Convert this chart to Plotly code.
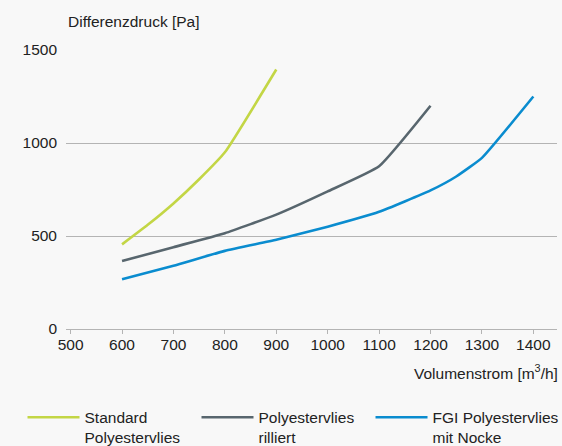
import plotly.graph_objects as go

# Data
std_x = [600, 650, 700, 750, 800, 900]
std_y = [455, 560, 675, 805, 950, 1395]

ril_x = [600, 700, 800, 900, 1000, 1100, 1200]
ril_y = [365, 440, 515, 615, 740, 875, 1200]

fgi_x = [600, 700, 800, 900, 1000, 1100, 1200, 1250, 1300, 1400]
fgi_y = [268, 340, 420, 480, 550, 630, 745, 820, 920, 1250]

names = ["Standard<br>Polyestervlies", "Polyestervlies<br>rilliert", "FGI Polyestervlies<br>mit Nocke"]
colors = ["#c3d645", "#58666e", "#0a8ccf"]

x_ticks = [500, 600, 700, 800, 900, 1000, 1100, 1200, 1300, 1400]
y_ticks = [0, 500, 1000, 1500]

FONT = "Liberation Sans, Arial, sans-serif"
FS = 15.5
legend_ids = ["legend", "legend2", "legend3"]
legend_xs = [-0.0886, 0.2658, 0.6202]

fig = go.Figure()
for xs, ys, nm, c, lg in zip([std_x, ril_x, fgi_x], [std_y, ril_y, fgi_y], names, colors, legend_ids):
    fig.add_trace(go.Scatter(x=xs, y=ys, mode="lines", name=nm, legend=lg,
                             line=dict(color=c, width=2.6, shape="spline", smoothing=0.4)))

legend_common = dict(orientation="h", xanchor="left", y=-0.257, yanchor="top",
                     valign="top", itemwidth=52,
                     font=dict(size=FS, color="#222222"), bgcolor="rgba(0,0,0,0)")

fig.update_layout(
    width=562, height=446,
    margin=dict(l=66, r=5, t=50, b=117, autoexpand=False),
    paper_bgcolor="#f8f8f8", plot_bgcolor="#f8f8f8",
    font=dict(family=FONT, size=FS, color="#222222"),
    showlegend=True,
    legend=dict(x=legend_xs[0], **legend_common),
    legend2=dict(x=legend_xs[1], **legend_common),
    legend3=dict(x=legend_xs[2], **legend_common),
    xaxis=dict(range=[491, 1446], tickvals=x_ticks, showgrid=False, zeroline=False,
               showline=True, linecolor="#b4b4b4", linewidth=1,
               ticks="outside", ticklen=4, tickcolor="#b4b4b4", ticklabelstandoff=-3,
               tickfont=dict(size=FS, color="#222222")),
    yaxis=dict(range=[0, 1500], tickvals=y_ticks, showgrid=True, gridcolor="#b4b4b4",
               gridwidth=1, zeroline=False, showline=False,
               ticklabelstandoff=8, tickfont=dict(size=FS, color="#222222")),
    annotations=[
        dict(text="Differenzdruck [Pa]", xref="paper", yref="paper", x=0, y=1,
             xanchor="left", yanchor="bottom", yshift=18, showarrow=False,
             font=dict(size=FS, color="#222222")),
        dict(text="Volumenstrom [m<sup>3</sup>/h]", xref="paper", yref="paper", x=1, y=0,
             xanchor="right", yanchor="middle", yshift=-43, xshift=3, showarrow=False,
             font=dict(size=FS, color="#222222")),
    ],
)

fig.write_html("out.html", config={"displayModeBar": False},
               post_script="document.body.style.margin='0';document.body.style.overflow='hidden';")
